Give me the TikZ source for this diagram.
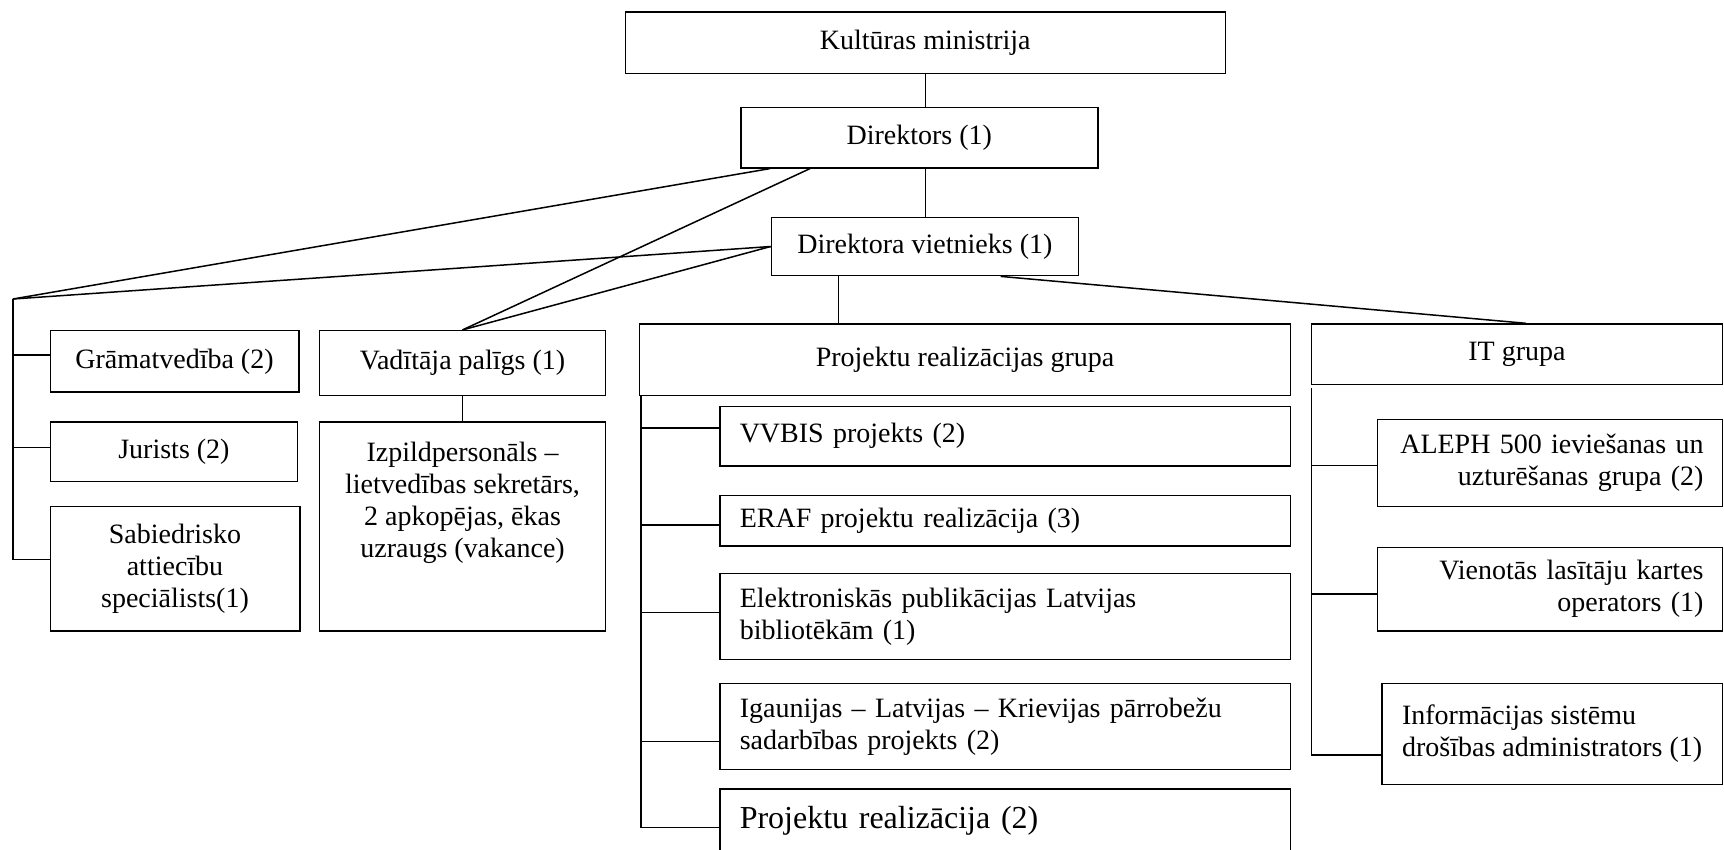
\documentclass[tikz,border=0pt]{standalone}
\usepackage{fontspec}
\setmainfont{Liberation Serif}
\begin{document}
\begin{tikzpicture}[x=1pt, y=-1pt, line width=1.5pt,
    box/.style={draw, anchor=north west, inner sep=0pt, align=center,
        font=\fontsize{28}{32}\selectfont},
    lbox/.style={box, align=left, inner xsep=20pt},
    rbox/.style={box, align=right, inner xsep=19pt}]
    \useasboundingbox (0,0) rectangle (1724,849);
    % top of the chart
    \node[box, minimum width=600pt, minimum height=61.6pt] (kult) at (624.5,11) {Kultūras ministrija};
    \node[box, minimum width=357pt, minimum height=60.4pt] (dir) at (740,106.7) {Direktors (1)};
    \node[box, minimum width=306.8pt, minimum height=58.3pt] (viet) at (770.7,216.6) {Direktora vietnieks (1)};
    % left column
    \node[box, minimum width=248.5pt, minimum height=61.5pt] (gram) at (49.5,329.9) {Grāmatvedība (2)};
    \node[box, minimum width=247.4pt, minimum height=59.4pt] (jur) at (49.5,421.1) {Jurists (2)};
    \node[box, minimum width=249.5pt, minimum height=124.2pt] (sab) at (49.5,505.8) {Sabiedrisko\\attiecību\\speciālists(1)};
    \node[box, minimum width=285.8pt, minimum height=64.8pt] (vad) at (318.9,329.9) {Vadītāja palīgs (1)};
    \node[box, minimum width=285.8pt, minimum height=208.9pt,
        label={[anchor=north, align=center, inner sep=0pt, yshift=-20pt,
        font=\fontsize{28}{32}\selectfont]north:Izpildpersonāls –\\lietvedības sekretārs,\\2 apkopējas, ēkas\\uzraugs (vakance)}]
        (izp) at (318.9,421.1) {};
    % project group
    \node[box, minimum width=651pt, minimum height=71.4pt] (prg) at (638.8,323.3) {Projektu realizācijas grupa};
    \node[lbox, text width=530.7pt, minimum height=59.4pt] (vvbis) at (719,405.7) {VVBIS projekts (2)};
    \node[lbox, text width=530.7pt, minimum height=50.6pt] (eraf) at (719,494.8) {ERAF projektu realizācija (3)};
    \node[lbox, text width=530.7pt, minimum height=85.8pt] (epub) at (719,572.8) {Elektroniskās publikācijas Latvijas\\bibliotēkām (1)};
    \node[lbox, text width=530.7pt, minimum height=85.8pt] (igla) at (719,682.8) {Igaunijas – Latvijas – Krievijas pārrobežu\\sadarbības projekts (2)};
    \node[lbox, text width=530.7pt, minimum height=64pt, font=\fontsize{32}{36}\selectfont] (preal) at (719,788.3) {Projektu realizācija (2)};
    % IT group
    \node[box, minimum width=411.2pt, minimum height=60.4pt] (itg) at (1310.6,323.3) {IT grupa};
    \node[rbox, text width=307.2pt, minimum height=86.9pt] (aleph) at (1376.6,418.9) {ALEPH 500 ieviešanas un\\uzturēšanas grupa (2)};
    \node[rbox, text width=307.2pt, minimum height=83.5pt] (vlk) at (1376.6,546.5) {Vienotās lasītāju kartes\\operators (1)};
    \node[box, align=left, minimum width=340.8pt, minimum height=101.1pt] (isda) at (1381,682.8) {Informācijas sistēmu\\drošības administrators (1)};

    % connectors
    \draw (kult.south) -- (kult.south |- dir.north);
    \draw (dir.south -| kult.south) -- (viet.north -| kult.south);
    \coordinate (jl) at (13,299);
    \draw ([xshift=30pt]dir.south west) -- (jl);
    \draw ([xshift=70pt]dir.south west) -- (vad.north);
    \draw (viet.west) -- (jl);
    \draw (viet.west) -- (vad.north);
    \draw (vad.south) -- (izp.north);
    % left bus
    \coordinate (tg) at ([yshift=6.6pt]gram.west);
    \coordinate (tj) at ([yshift=4pt]jur.west);
    \coordinate (ts) at ([yshift=9pt]sab.west);
    \draw (jl) -- (jl |- ts) -- (ts);
    \draw (jl |- tg) -- (tg);
    \draw (jl |- tj) -- (tj);
    % project bus
    \draw ([xshift=68pt]viet.south west) -- ([xshift=68pt]viet.south west |- prg.north);
    \coordinate (pb) at ([xshift=2pt]prg.south west);
    \coordinate (tv) at ([yshift=8pt]vvbis.west);
    \coordinate (te) at ([yshift=-4pt]eraf.west);
    \coordinate (tp) at ([yshift=4pt]epub.west);
    \coordinate (ti) at ([yshift=-15pt]igla.west);
    \coordinate (tr) at ([yshift=-6.5pt]preal.west);
    \draw (pb) -- (pb |- tr) -- (tr);
    \draw (pb |- tv) -- (tv);
    \draw (pb |- te) -- (te);
    \draw (pb |- tp) -- (tp);
    \draw (pb |- ti) -- (ti);
    % IT bus
    \draw ([xshift=230pt]viet.south west) -- ([xshift=215.4pt]itg.north west);
    \coordinate (ib) at ([xshift=1pt,yshift=-3pt]itg.south west);
    \coordinate (ta) at ([yshift=-2.6pt]aleph.west);
    \coordinate (tk) at ([yshift=-5pt]vlk.west);
    \coordinate (td) at ([yshift=-21pt]isda.west);
    \draw (ib) -- (ib |- td) -- (td);
    \draw (ib |- ta) -- (ta);
    \draw (ib |- tk) -- (tk);
\end{tikzpicture}
\end{document}
